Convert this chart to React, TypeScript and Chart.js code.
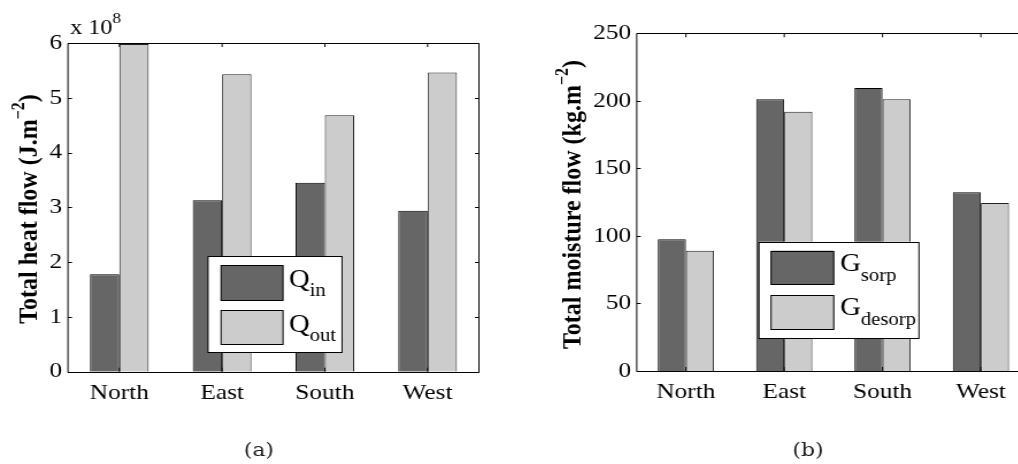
import React, { useEffect, useRef } from 'react';
import { Chart, registerables } from 'chart.js';

Chart.register(...registerables);

// ---------- data ----------
const categories = ['North', 'East', 'South', 'West'];
// total heat flow, in units of 10^8 J.m^-2
const heatInflow = [1.78, 3.13, 3.45, 2.94];
const heatOutflow = [5.98, 5.43, 4.68, 5.46];
// total moisture flow, kg.m^-2
const moistureSorption = [97.5, 201.1, 209.5, 132.3];
const moistureDesorption = [89.1, 192.0, 201.1, 124.4];

const heatAxisMax = 6;
const heatTickStep = 1;
const moistAxisMax = 250;
const moistTickStep = 50;

const heatSeriesLabels = ['Q_in', 'Q_out'];
const moistSeriesLabels = ['G_sorp', 'G_desorp'];
const heatAxisTitle = ['Total heat flow (J.m', '\u22122', ')'];
const moistAxisTitle = ['Total moisture flow (kg.m', '\u22122', ')'];
const heatExponent = ['x 10', '8'];
const panelCaptions = ['(a)', '(b)'];

// ---------- style ----------
const DARK = '#666666';
const LIGHT = '#cccccc';
const SX = 1.15; // horizontal stretch of the figure
const SERIF = "'Liberation Serif', 'Times New Roman', serif";

function drawMixed(ctx: CanvasRenderingContext2D, parts: { t: string; font: string; dy: number }[], x: number, y: number, align: 'left' | 'center') {
  let total = 0;
  const widths = parts.map((p) => {
    ctx.font = p.font;
    const w = ctx.measureText(p.t).width;
    total += w;
    return w;
  });
  let cx = align === 'center' ? x - total / 2 : x;
  ctx.textAlign = 'left';
  ctx.textBaseline = 'alphabetic';
  parts.forEach((p, i) => {
    ctx.font = p.font;
    ctx.fillText(p.t, cx, y + p.dy);
    cx += widths[i];
  });
}

const framePlugin = {
  id: 'matlabFrame',
  beforeDatasetsDraw(chart: any, _args: any, _opts: any) {
    const { ctx, chartArea: a } = chart;
    const xs = chart.scales.x;
    const ys = chart.scales.y;
    ctx.save();
    ctx.strokeStyle = '#000';
    ctx.lineWidth = 1;
    const tlx = 4 / SX;
    const tly = 4;
    ctx.beginPath();
    ys.ticks.forEach((t: any) => {
      const py = Math.round(ys.getPixelForValue(t.value)) + 0.5;
      ctx.moveTo(a.left, py);
      ctx.lineTo(a.left + tlx, py);
      ctx.moveTo(a.right, py);
      ctx.lineTo(a.right - tlx, py);
    });
    categories.forEach((_c, i) => {
      const px = xs.getPixelForValue(i);
      ctx.moveTo(px, a.top);
      ctx.lineTo(px, a.top + tly);
      ctx.moveTo(px, a.bottom);
      ctx.lineTo(px, a.bottom - tly);
    });
    ctx.stroke();
    ctx.restore();
  },
  afterDatasetsDraw(chart: any, _args: any, opts: any) {
    const { ctx, chartArea: a } = chart;
    ctx.save();
    ctx.strokeStyle = '#000';
    ctx.lineWidth = 1;
    const top = Math.round(a.top) + 0.5;
    const bot = Math.round(a.bottom) + 0.5;
    ctx.beginPath();
    ctx.moveTo(a.left, top);
    ctx.lineTo(a.right, top);
    ctx.lineTo(a.right, bot);
    ctx.lineTo(a.left, bot);
    ctx.closePath();
    ctx.stroke();

    // legend
    const lg = opts.legend;
    if (lg) {
      const [bx0, by0, bx1, by1] = lg.box;
      ctx.fillStyle = '#fff';
      ctx.fillRect(bx0, by0, bx1 - bx0, by1 - by0);
      ctx.strokeRect(bx0, Math.round(by0) + 0.5, bx1 - bx0, Math.round(by1 - by0));
      chart.data.datasets.forEach((ds: any, i: number) => {
        const [sx0, sy0, sx1, sy1] = lg.swatches[i];
        ctx.fillStyle = ds.backgroundColor;
        ctx.fillRect(sx0, sy0, sx1 - sx0, sy1 - sy0);
        ctx.strokeStyle = '#000';
        ctx.strokeRect(sx0, Math.round(sy0) + 0.5, sx1 - sx0, Math.round(sy1 - sy0));
        const [main, sub] = String(ds.label).split('_');
        ctx.fillStyle = '#000';
        const base = sy0 + lg.baseOffset;
        drawMixed(
          ctx,
          [
            { t: main, font: `25px ${SERIF}`, dy: 0 },
            { t: sub, font: `18px ${SERIF}`, dy: lg.subDy },
          ],
          lg.textX,
          base,
          'left'
        );
      });
    }
    ctx.restore();
  },
  afterDraw(chart: any, _args: any, opts: any) {
    const { ctx } = chart;
    ctx.save();
    ctx.fillStyle = '#000';
    // axis title (rotated)
    const t = opts.title;
    if (t) {
      ctx.translate(t.x, t.y);
      ctx.rotate(-Math.PI / 2);
      drawMixed(
        ctx,
        [
          { t: t.parts[0], font: `bold 24px ${SERIF}`, dy: 0 },
          { t: t.parts[1], font: `bold 16px ${SERIF}`, dy: -11 },
          { t: t.parts[2], font: `bold 24px ${SERIF}`, dy: 0 },
        ],
        0,
        0,
        'center'
      );
      ctx.setTransform(1, 0, 0, 1, 0, 0);
    }
    const e = opts.exponent;
    if (e) {
      drawMixed(
        ctx,
        [
          { t: e.parts[0], font: `21px ${SERIF}`, dy: 0 },
          { t: e.parts[1], font: `15px ${SERIF}`, dy: -11 },
        ],
        e.x,
        e.y,
        'left'
      );
    }
    const c = opts.caption;
    if (c) {
      ctx.font = "19px 'DejaVu Serif', serif";
      ctx.textAlign = 'center';
      ctx.textBaseline = 'middle';
      ctx.fillStyle = '#1a1a1a';
      ctx.fillText(c.text, c.x, c.y);
    }
    ctx.restore();
  },
};

function makeConfig(p: any): any {
  const tickFont = { family: SERIF, size: 22 };
  return {
    type: 'bar',
    data: {
      labels: categories,
      datasets: [
        {
          label: p.labels[0],
          data: p.a,
          backgroundColor: DARK,
          borderColor: '#000',
          borderWidth: 1,
          categoryPercentage: 0.5714,
          barPercentage: 1,
        },
        {
          label: p.labels[1],
          data: p.b,
          backgroundColor: LIGHT,
          borderColor: '#222',
          borderWidth: 1,
          categoryPercentage: 0.5714,
          barPercentage: 1,
        },
      ],
    },
    options: {
      animation: false,
      responsive: false,
      devicePixelRatio: 1,
      events: [],
      layout: { padding: { top: p.top, right: p.right, left: 0, bottom: 0 } },
      plugins: {
        legend: { display: false },
        tooltip: { enabled: false },
        matlabFrame: p.frame,
      },
      scales: {
        x: {
          grid: { display: false, drawTicks: false },
          border: { display: false },
          ticks: { font: tickFont, color: '#000', padding: 8, maxRotation: 0, autoSkip: false },
          afterFit: (s: any) => {
            s.height = p.xh;
          },
        },
        y: {
          min: 0,
          max: p.max,
          grid: { display: false, drawTicks: false },
          border: { display: false },
          ticks: { stepSize: p.step, font: tickFont, color: '#000', padding: 5 },
          afterFit: (s: any) => {
            s.width = p.yw;
          },
        },
      },
    },
    plugins: [framePlugin],
  };
}

export default function App() {
  const leftRef = useRef<HTMLCanvasElement>(null);
  const rightRef = useRef<HTMLCanvasElement>(null);

  useEffect(() => {
    const left = new Chart(
      leftRef.current as HTMLCanvasElement,
      makeConfig({
        labels: heatSeriesLabels,
        a: heatInflow,
        b: heatOutflow,
        max: heatAxisMax,
        step: heatTickStep,
        top: 43,
        right: 18.5,
        yw: 59.1,
        xh: 92.3,
        frame: {
          title: { parts: heatAxisTitle, x: 32, y: 209 },
          exponent: { parts: heatExponent, x: 60.9, y: 34 },
          legend: {
            box: [180.9, 256, 297.4, 352],
            swatches: [
              [192.2, 265, 246.1, 300],
              [192.2, 310, 246.1, 344],
            ],
            textX: 251.3,
            baseOffset: 22,
            subDy: 9,
          },
          caption: { text: panelCaptions[0], x: 225.2, y: 451 },
        },
      })
    );
    const right = new Chart(
      rightRef.current as HTMLCanvasElement,
      makeConfig({
        labels: moistSeriesLabels,
        a: moistureSorption,
        b: moistureDesorption,
        max: moistAxisMax,
        step: moistTickStep,
        top: 33.3,
        right: 19.1,
        yw: 118.9,
        xh: 93,
        frame: {
          title: { parts: moistAxisTitle, x: 69.6, y: 204.5 },
          legend: {
            box: [225.2, 241.7, 364.3, 338],
            swatches: [
              [235.7, 250.7, 290.2, 284],
              [235.7, 295, 290.2, 329],
            ],
            textX: 295.7,
            baseOffset: 20,
            subDy: 10,
          },
          caption: { text: panelCaptions[1], x: 267.8, y: 451 },
        },
      })
    );
    return () => {
      left.destroy();
      right.destroy();
    };
  }, []);

  const canvasStyle = (x: number): React.CSSProperties => ({
    position: 'absolute',
    left: x,
    top: 0,
    transform: `scaleX(${SX})`,
    transformOrigin: '0 0',
  });

  return (
    <div
      style={{
        position: 'fixed',
        left: 0,
        top: 0,
        width: 1018,
        height: 464,
        overflow: 'hidden',
        background: '#fff',
      }}
    >
      <canvas ref={leftRef} width={435} height={464} style={canvasStyle(0)} />
      <canvas ref={rightRef} width={480} height={464} style={canvasStyle(500)} />
    </div>
  );
}
